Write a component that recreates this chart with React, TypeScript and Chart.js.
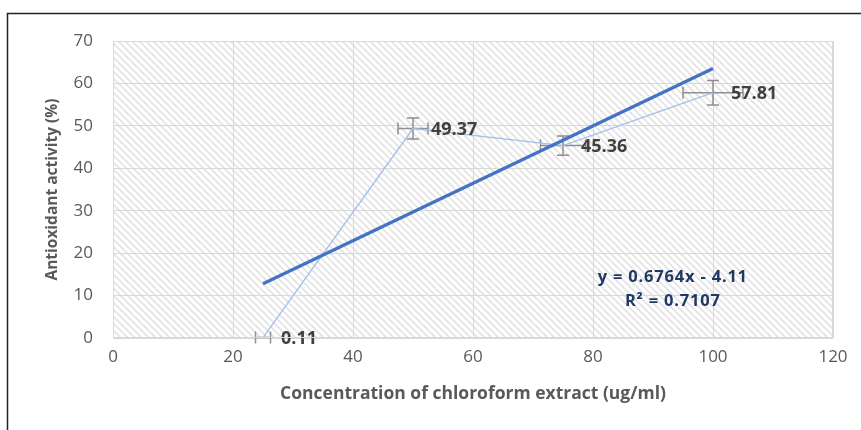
import React, { useEffect, useRef } from 'react';
import { Chart, registerables } from 'chart.js';

Chart.register(...registerables);

const concentrations = [25, 50, 75, 100];
const activity = [0.11, 49.37, 45.36, 57.81];
const xErrors = [1.25, 2.5, 3.75, 5];
const yErrors = [0.01, 2.47, 2.27, 2.89];
const valueLabels = ['0.11', '49.37', '45.36', '57.81'];
const trendX = [25, 100];
const trendY = [12.8, 63.53];
const equationLines = ['y = 0.6764x - 4.11', 'R\u00B2 = 0.7107'];
const equationAnchor = { x: 93.3, y: 14.2 };

const FONT = "'Open Sans', sans-serif";

const framePlugin = {
  id: 'frame',
  beforeDraw(chart: any) {
    const { ctx, chartArea: a } = chart;
    ctx.save();
    ctx.fillStyle = '#ffffff';
    ctx.fillRect(0, 0, chart.width, chart.height);
    ctx.strokeStyle = '#222222';
    ctx.lineWidth = 1.5;
    ctx.beginPath();
    ctx.moveTo(7.5, chart.height + 5);
    ctx.lineTo(7.5, 13.5);
    ctx.lineTo(chart.width + 5, 13.5);
    ctx.stroke();
    const tile = document.createElement('canvas');
    tile.width = 7;
    tile.height = 7;
    const t = tile.getContext('2d')!;
    t.strokeStyle = '#e3e3e3';
    t.lineWidth = 1.6;
    t.beginPath();
    t.moveTo(-2, -2);
    t.lineTo(9, 9);
    t.moveTo(-2, 5);
    t.lineTo(2, 9);
    t.moveTo(5, -2);
    t.lineTo(9, 2);
    t.stroke();
    const pat = ctx.createPattern(tile, 'repeat');
    ctx.fillStyle = pat;
    ctx.fillRect(a.left, a.top, a.right - a.left, a.bottom - a.top);
    ctx.restore();
  },
  afterDraw(chart: any) {
    const { ctx, chartArea: a } = chart;
    ctx.save();
    ctx.strokeStyle = '#d9d9d9';
    ctx.lineWidth = 1;
    ctx.strokeRect(a.left + 0.5, a.top + 0.5, a.right - a.left - 1, a.bottom - a.top - 1);
    ctx.restore();
  },
};

const errorBarPlugin = {
  id: 'errorBars',
  beforeDatasetsDraw(chart: any) {
    const { ctx } = chart;
    const xs = chart.scales.x;
    const ys = chart.scales.y;
    ctx.save();
    ctx.strokeStyle = '#8f8f8f';
    ctx.lineWidth = 1.5;
    const cap = 6;
    concentrations.forEach((cx, i) => {
      const px = xs.getPixelForValue(cx);
      const py = ys.getPixelForValue(activity[i]);
      const x1 = xs.getPixelForValue(cx - xErrors[i]);
      const x2 = xs.getPixelForValue(cx + xErrors[i]);
      const y1 = ys.getPixelForValue(activity[i] - yErrors[i]);
      const y2 = ys.getPixelForValue(activity[i] + yErrors[i]);
      ctx.beginPath();
      ctx.moveTo(x1, py);
      ctx.lineTo(x2, py);
      ctx.moveTo(x1, py - cap);
      ctx.lineTo(x1, py + cap);
      ctx.moveTo(x2, py - cap);
      ctx.lineTo(x2, py + cap);
      ctx.moveTo(px, y1);
      ctx.lineTo(px, y2);
      ctx.moveTo(px - cap, y1);
      ctx.lineTo(px + cap, y1);
      ctx.moveTo(px - cap, y2);
      ctx.lineTo(px + cap, y2);
      ctx.stroke();
    });
    ctx.restore();
  },
};

const labelPlugin = {
  id: 'valueLabels',
  afterDatasetsDraw(chart: any) {
    const { ctx } = chart;
    const xs = chart.scales.x;
    const ys = chart.scales.y;
    ctx.save();
    ctx.font = `bold 18px ${FONT}`;
    ctx.fillStyle = '#404040';
    ctx.textAlign = 'left';
    ctx.textBaseline = 'middle';
    concentrations.forEach((cx, i) => {
      const px = xs.getPixelForValue(cx);
      const py = ys.getPixelForValue(activity[i]);
      ctx.fillText(valueLabels[i], px + 18, py + 1);
    });
    ctx.font = `bold 16.5px ${FONT}`;
    (ctx as any).letterSpacing = '0.8px';
    ctx.fillStyle = '#203864';
    ctx.textAlign = 'center';
    const ex = xs.getPixelForValue(equationAnchor.x);
    const ey = ys.getPixelForValue(equationAnchor.y);
    equationLines.forEach((line, i) => {
      ctx.fillText(line, ex, ey + i * 24);
    });
    ctx.restore();
  },
};

export default function App() {
  const ref = useRef<HTMLCanvasElement>(null);
  useEffect(() => {
    document.body.style.margin = '0';
    const canvas = ref.current!;
    const chart = new Chart(canvas, {
      type: 'scatter',
      data: {
        datasets: [
          {
            label: 'Antioxidant activity',
            data: concentrations.map((x, i) => ({ x, y: activity[i] })),
            showLine: true,
            borderColor: '#a3c0ea',
            borderWidth: 1.3,
            pointRadius: 0,
            order: 2,
          },
          {
            label: 'Linear trend',
            data: trendX.map((x, i) => ({ x, y: trendY[i] })),
            showLine: true,
            borderColor: '#4472c4',
            borderWidth: 3.2,
            pointRadius: 0,
            order: 1,
          },
        ],
      },
      options: {
        animation: false,
        responsive: false,
        devicePixelRatio: 1,
        layout: { padding: { left: 8, right: 28, top: 41, bottom: 0 } },
        plugins: {
          legend: { display: false },
          tooltip: { enabled: false },
        },
        scales: {
          x: {
            type: 'linear',
            min: 0,
            max: 120,
            ticks: { stepSize: 20, color: '#595959', font: { family: FONT, size: 17 }, padding: 9 },
            grid: { color: '#d9d9d9', drawTicks: false },
            border: { display: false },
            title: {
              display: true,
              text: 'Concentration of chloroform extract (ug/ml)',
              color: '#595959',
              font: { family: FONT, size: 17.5, weight: 'bold' },
              padding: { top: 0, bottom: 25 },
            },
            afterFit(scale: any) {
              scale.height = 92;
            },
          },
          y: {
            min: 0,
            max: 70,
            ticks: { stepSize: 10, color: '#595959', font: { family: FONT, size: 17 }, padding: 20 },
            grid: { color: '#d9d9d9', drawTicks: false },
            border: { display: false },
            title: {
              display: true,
              text: 'Antioxidant activity (%)',
              color: '#595959',
              font: { family: FONT, size: 15.5, weight: 'bold' },
              padding: { top: 35, bottom: 0 },
            },
            afterFit(scale: any) {
              scale.width = 105;
            },
          },
        },
      },
      plugins: [framePlugin, errorBarPlugin, labelPlugin],
    });
    return () => chart.destroy();
  }, []);
  return <canvas ref={ref} width={861} height={430} style={{ display: 'block' }} />;
}
